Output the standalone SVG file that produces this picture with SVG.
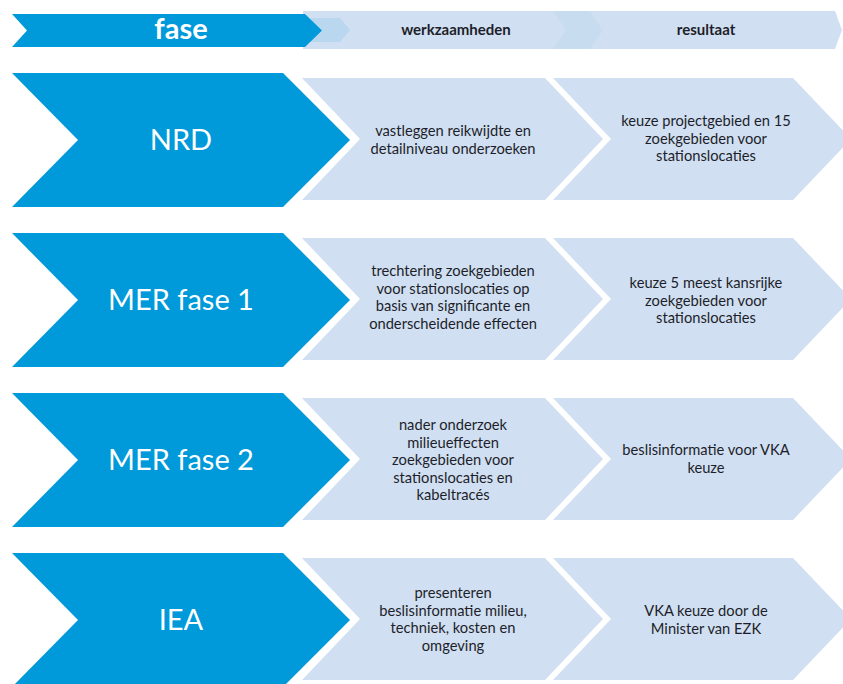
<svg xmlns="http://www.w3.org/2000/svg" width="843" height="684" viewBox="0 0 843 684">
<style>
.blue{fill:#0099d9}
.light{fill:#d0e0f2}
.ph{font-family:Lato,"Liberation Sans",sans-serif;font-size:29px;fill:#fff;text-anchor:middle}
.hd{font-family:Lato,"Liberation Sans",sans-serif;font-size:15px;font-weight:bold;fill:#1e1e2a;text-anchor:middle}
.tx{font-family:Lato,"Liberation Sans",sans-serif;font-size:14.7px;fill:#1e1e2a;text-anchor:middle}
</style>
<defs>
<polygon id="bch" points="12,0 283,0 350,67 283,134 12,134 78,67"/>
<polygon id="l1" points="302,5 545,5 603,66 545,127 302,127 360,66"/>
<polygon id="l2" points="553,5 793,5 851,66 793,127 553,127 611,66"/>
</defs>
<rect width="843" height="684" fill="#fff"/>
<g id="header">
<polygon class="light" points="303,11 835,11 842,30 835,49 303,49"/>
<polygon fill="#c8dcf0" points="553,11 590,11 603,30 590,49 553,49 566,30"/>
<polygon fill="#b9d8f0" points="310,18 340,18 350,30 340,42 310,42 320,30"/>
<polygon class="blue" points="12,14 305,14 322,30.5 305,47 12,47 27,30.5"/>
<text x="181" y="39" font-family="Lato,'Liberation Sans',sans-serif" font-size="29" font-weight="bold" fill="#fff" text-anchor="middle">fase</text>
<text class="hd" x="456" y="35">werkzaamheden</text>
<text class="hd" x="706" y="35">resultaat</text>
</g>
<g id="row-nrd" transform="translate(0,73)">
<use href="#bch" class="blue"/>
<use href="#l1" class="light"/>
<use href="#l2" class="light"/>
<text class="ph" x="181" y="77">NRD</text>
<text class="tx"><tspan x="453" y="63">vastleggen reikwijdte en</tspan><tspan x="453" y="81">detailniveau onderzoeken</tspan></text>
<text class="tx"><tspan x="706" y="53">keuze projectgebied en 15</tspan><tspan x="706" y="70.5">zoekgebieden voor</tspan><tspan x="706" y="88">stationslocaties</tspan></text>
</g>
<g id="row-mer1" transform="translate(0,233)">
<use href="#bch" class="blue"/>
<use href="#l1" class="light"/>
<use href="#l2" class="light"/>
<text class="ph" x="181" y="77">MER fase 1</text>
<text class="tx"><tspan x="453" y="43">trechtering zoekgebieden</tspan><tspan x="453" y="60.5">voor stationslocaties op</tspan><tspan x="453" y="78">basis van significante en</tspan><tspan x="453" y="95.5">onderscheidende effecten</tspan></text>
<text class="tx"><tspan x="706" y="55">keuze 5 meest kansrijke</tspan><tspan x="706" y="72.5">zoekgebieden voor</tspan><tspan x="706" y="90">stationslocaties</tspan></text>
</g>
<g id="row-mer2" transform="translate(0,393)">
<use href="#bch" class="blue"/>
<use href="#l1" class="light"/>
<use href="#l2" class="light"/>
<text class="ph" x="181" y="77">MER fase 2</text>
<text class="tx"><tspan x="453" y="37">nader onderzoek</tspan><tspan x="453" y="54.5">milieueffecten</tspan><tspan x="453" y="72">zoekgebieden voor</tspan><tspan x="453" y="89.5">stationslocaties en</tspan><tspan x="453" y="107">kabeltracés</tspan></text>
<text class="tx"><tspan x="706" y="62">beslisinformatie voor VKA</tspan><tspan x="706" y="79.5">keuze</tspan></text>
</g>
<g id="row-iea" transform="translate(0,553)">
<use href="#bch" class="blue"/>
<use href="#l1" class="light"/>
<use href="#l2" class="light"/>
<text class="ph" x="181" y="77">IEA</text>
<text class="tx"><tspan x="453" y="45">presenteren</tspan><tspan x="453" y="62.5">beslisinformatie milieu,</tspan><tspan x="453" y="80">techniek, kosten en</tspan><tspan x="453" y="97.5">omgeving</tspan></text>
<text class="tx"><tspan x="706" y="63">VKA keuze door de</tspan><tspan x="706" y="80.5">Minister van EZK</tspan></text>
</g>
<g id="connectors"/>
</svg>
